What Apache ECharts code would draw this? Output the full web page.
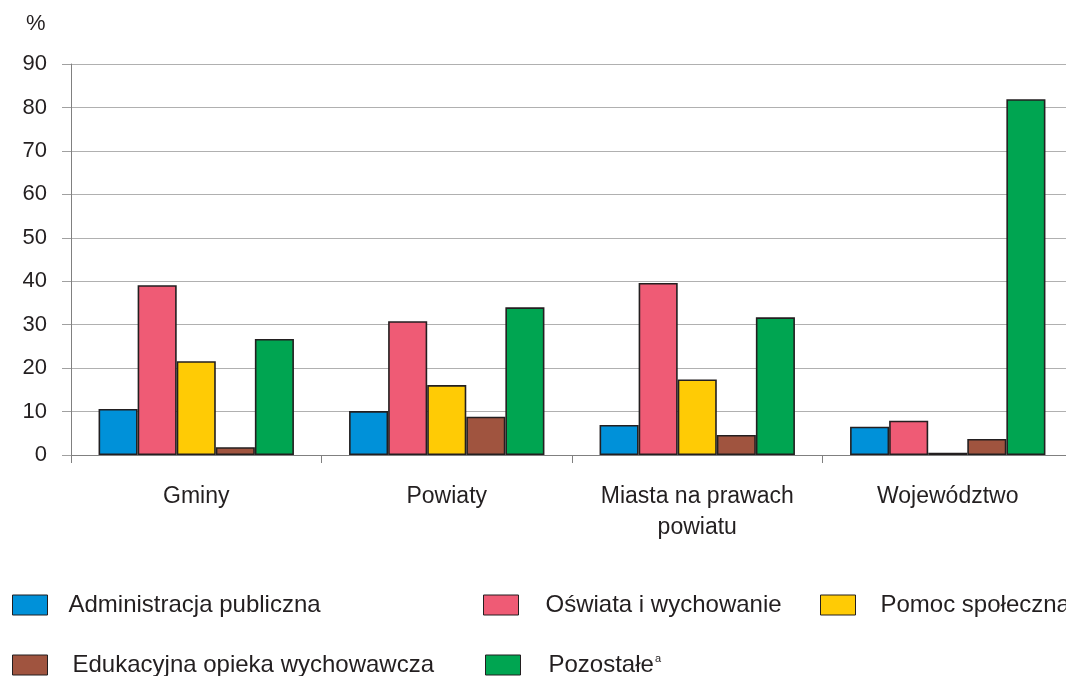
<!DOCTYPE html>
<html>
<head>
<meta charset="utf-8">
<script src="https://cdn.jsdelivr.net/npm/echarts@6/dist/echarts.min.js"></script>
<style>
html,body{margin:0;padding:0;background:#fff;overflow:hidden;width:1066px;height:676px;}
#c{width:1080px;height:676px;}
</style>
</head>
<body>
<div id="c"></div>
<script>
var categories = ['Gminy', 'Powiaty', 'Miasta na prawach\npowiatu', 'Województwo'];
var seriesNames = ['Administracja publiczna', 'Oświata i wychowanie', 'Pomoc społeczna', 'Edukacyjna opieka wychowawcza', 'Pozostałe'];
var administracja = [10.6, 10.1, 6.9, 6.5];
var oswiata = [39.1, 30.8, 39.6, 7.9];
var pomoc = [21.6, 16.1, 17.4, 0.5];
var edukacyjna = [1.8, 8.8, 4.6, 3.7];
var pozostale = [26.7, 34.0, 31.7, 81.9];
var yTicks = [0, 10, 20, 30, 40, 50, 60, 70, 80, 90];

var colors = ['#0091d9', '#ef5b75', '#ffcb05', '#a0543f', '#00a551'];
var values = [administracja, oswiata, pomoc, edukacyjna, pozostale];
var FONT = 'Liberation Sans, Arial, sans-serif';

var series = seriesNames.map(function (n, i) {
  return {
    name: n,
    type: 'bar',
    data: values[i],
    barGap: '0%',
    barCategoryGap: '22%',
    itemStyle: { color: colors[i], borderColor: '#231f20', borderWidth: 1.6 }
  };
});

function leg(name, iconLeft, top, padL) {
  return {
    data: [name],
    left: iconLeft - 5, top: top,
    icon: 'rect',
    itemWidth: 35, itemHeight: 20,
    itemGap: 0,
    selectedMode: false,
    itemStyle: { borderColor: '#231f20', borderWidth: 1 },
    formatter: function (n) { return n === 'Pozostałe' ? '{a|Pozostałe}{s|a}' : n; },
    textStyle: {
      fontFamily: FONT, fontSize: 24, lineHeight: 24, color: '#231f20', padding: [0, 0, 0, padL],
      rich: {
        a: { fontFamily: FONT, fontSize: 24, lineHeight: 24, color: '#231f20' },
        s: { fontFamily: FONT, fontSize: 11, lineHeight: 24, color: '#231f20', verticalAlign: 'top', padding: [0, 0, 12, 1] }
      }
    }
  };
}

var legends = [
  leg('Administracja publiczna', 12, 588, 16),
  leg('Oświata i wychowanie', 483, 588, 22),
  leg('Pomoc społeczna', 820, 588, 20),
  leg('Edukacyjna opieka wychowawcza', 12, 648, 20),
  leg('Pozostałe', 485, 648, 23)
];

var chart = echarts.init(document.getElementById('c'), null, { renderer: 'canvas' });
chart.setOption({
  animation: false,
  backgroundColor: '#fff',
  grid: { left: 71, top: 64, height: 391, width: 1002, containLabel: false },
  legend: legends,
  graphic: [{
    type: 'text', left: 26, top: 13,
    style: { text: '%', fontFamily: FONT, fontSize: 22, fill: '#231f20' }
  }],
  xAxis: {
    type: 'category',
    data: categories,
    axisLine: { lineStyle: { color: '#808080', width: 1 } },
    axisTick: { show: true, interval: 0, length: 8, lineStyle: { color: '#808080' } },
    axisLabel: { interval: 0, fontFamily: FONT, fontSize: 23, color: '#231f20', margin: 26, lineHeight: 31 }
  },
  yAxis: {
    type: 'value',
    min: yTicks[0], max: yTicks[yTicks.length - 1], interval: 10,
    axisLine: { show: true, lineStyle: { color: '#808080', width: 1 } },
    axisTick: { show: true, length: 9, lineStyle: { color: '#a0a0a0' } },
    axisLabel: { fontFamily: FONT, fontSize: 22, color: '#231f20', margin: 24 },
    splitLine: { lineStyle: { color: '#b0b0b0', width: 1 } }
  },
  series: series
});
</script>
</body>
</html>
